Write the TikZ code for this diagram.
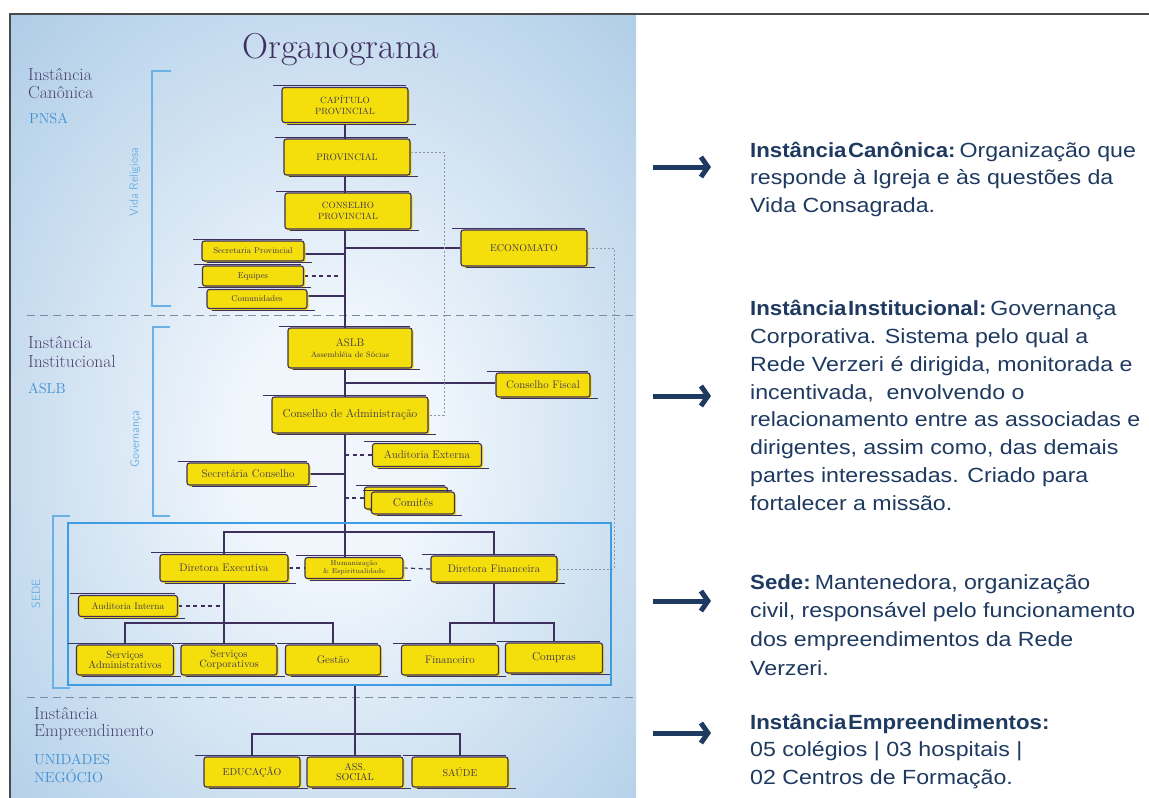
\documentclass[tikz,border=0pt]{standalone}
\usepackage{fontspec}
\usetikzlibrary{calc,arrows.meta}
\newfontfamily\notefont[FakeStretch=1.13]{Liberation Sans}

\definecolor{boxyellow}{RGB}{244,223,12}
\definecolor{ink}{RGB}{61,47,94}
\definecolor{boxtext}{RGB}{63,53,80}
\definecolor{panelin}{RGB}{240,246,252}
\definecolor{panelout}{RGB}{150,189,223}
\definecolor{framegray}{RGB}{74,74,74}
\definecolor{bracketblue}{RGB}{109,176,228}
\definecolor{labelblue}{RGB}{60,143,210}
\definecolor{labelpurple}{RGB}{77,68,112}
\definecolor{sedeblue}{RGB}{62,156,227}
\definecolor{notenavy}{RGB}{30,58,96}
\definecolor{sectdash}{RGB}{125,140,163}
\definecolor{dotgray}{RGB}{142,152,170}

\pgfdeclareradialshading{panelglow}{\pgfpoint{1bp}{-3bp}}{%
  color(0bp)=(panelin); color(8bp)=(panelin); color(48bp)=(panelout); color(90bp)=(panelout)}

\pgfdeclarelayer{panel}
\pgfdeclarelayer{links}
\pgfsetlayers{panel,links,main}

\newcommand\chartfont[2]{\fontsize{#1}{#2}\selectfont}
% bold lead-in of a note, set a little tighter
\newcommand\notehead[1]{\scalebox{0.96}[1]{\textbf{#1}}\hspace{4pt}}
\newcommand\tightsp{\hspace{1.5pt}}

\begin{document}
\begin{tikzpicture}[x=1pt,y=-1pt,
  sz/.style 2 args={minimum width=#1, minimum height=#2},
  ybox/.style={draw=ink, fill=boxyellow, line width=1.1pt, rounded corners=2.5pt,
    inner sep=0pt, align=center, text=boxtext,
    preaction={fill=boxyellow, transform canvas={shift={(1.6pt,-1.8pt)}}},
    append after command={
      ($(\tikzlastnode.north west)+(-8pt,1.3pt)$) edge[sketchline] ($(\tikzlastnode.north east)+(-3pt,1.3pt)$)
      ($(\tikzlastnode.south west)+(6pt,-0.9pt)$) edge[sketchline] ($(\tikzlastnode.south east)+(7pt,-0.9pt)$)
    }},
  sketchline/.style={draw=ink, line width=0.8pt},
  link/.style={draw=ink, line width=1.5pt},
  dashlink/.style={draw=ink, line width=1.2pt, dash pattern=on 4pt off 3.5pt},
  dotlink/.style={draw=dotgray, line width=0.8pt, dash pattern=on 2pt off 2pt},
  sectline/.style={draw=sectdash, line width=0.8pt, dash pattern=on 8pt off 5pt},
  bracket/.style={draw=bracketblue, line width=1.3pt},
  sectlabel/.style={anchor=base west, text=labelpurple, font=\chartfont{17.5}{20}, inner sep=0pt},
  unitlabel/.style={anchor=base west, text=labelblue, font=\chartfont{14.5}{17}, inner sep=0pt},
  sidelabel/.style={rotate=90, text=bracketblue, font=\sffamily\chartfont{12}{14}, inner sep=0pt},
  noteline/.style={anchor=base west, text=notenavy, font=\notefont\fontsize{20.5}{24}\selectfont, inner sep=0pt},
  notearrow/.style={draw=notenavy, line width=5pt, -{Straight Barb[length=7pt, width=20pt]}},
]
\useasboundingbox (0,0) rectangle (1149,798);

% blue panel with its soft glow and the frame lines
\begin{pgfonlayer}{panel}
  \fill[white] (0,0) rectangle (1149,798);
  \shade[shading=panelglow] (10,14) rectangle (636,798);
  \draw[framegray, line width=1.4pt] (1149,14) -- (10,14) -- (10,798);
  \draw[sectline] (27,315) -- (636,315);
  \draw[sectline] (27,697) -- (636,697);
  \draw[bracket] (171,71) -- (152,71) -- (152,306) -- (171,306);
  \draw[bracket] (170,327) -- (153,327) -- (153,516) -- (170,516);
  \draw[bracket] (70,516) -- (53,516) -- (53,688) -- (70,688);
\end{pgfonlayer}

% title and section labels
\node[text=ink, font=\chartfont{36}{42}, inner sep=0pt] (title) at (341,50) {Organograma};

\node[sectlabel] (can1) at (28,80) {Instância};
\node[sectlabel] (can2) at (28,98) {Canônica};
\node[unitlabel] (pnsa) at (29,123) {PNSA};
\node[sectlabel] (ins1) at (28,348) {Instância};
\node[sectlabel] (ins2) at (28,367) {Institucional};
\node[unitlabel] (aslbtag) at (28,393) {ASLB};
\node[sectlabel] (emp1) at (34,719) {Instância};
\node[sectlabel] (emp2) at (34,736) {Empreendimento};
\node[unitlabel] (uni1) at (34,764) {UNIDADES};
\node[unitlabel] (uni2) at (34,782) {NEGÓCIO};

\node[sidelabel] (vida) at (135,182) {Vida Religiosa};
\node[sidelabel] (gov) at (136,439) {Governança};
\node[sidelabel] (sedetag) at (36,594) {SEDE};

% SEDE frame
\node[draw=sedeblue, line width=2pt, sz={543}{162}, inner sep=0pt] (sedeframe) at (339.5,604) {};

% canonical instance
\node[ybox, sz={126}{35}, font=\chartfont{9}{10.5}] (cap) at (345,105) {CAPÍTULO\\PROVINCIAL};
\node[ybox, sz={126}{36}, font=\chartfont{9.5}{11}] (prov) at (347,157) {PROVINCIAL};
\node[ybox, sz={126}{36}, font=\chartfont{9}{10.5}] (consprov) at (348,211) {CONSELHO\\PROVINCIAL};
\node[ybox, sz={126}{36}, font=\chartfont{10}{12}] (econ) at (524,248) {ECONOMATO};
\node[ybox, sz={102}{20}, font=\chartfont{8.5}{10}] (secprov) at (253,251) {Secretaria Provincial};
\node[ybox, sz={101}{20}, font=\chartfont{8.5}{10}] (equipes) at (253,276) {Equipes};
\node[ybox, sz={100}{19}, font=\chartfont{8.5}{10}] (comun) at (257,299) {Comunidades};

% institutional instance
\node[ybox, sz={124}{40}, font=\chartfont{11}{12}] (aslb) at (350,348) {ASLB\\[-1pt]{\chartfont{8}{9}Assembléia de Sócias}};
\node[ybox, sz={94}{24}, font=\chartfont{11}{13}] (fiscal) at (543,385) {Conselho Fiscal};
\node[ybox, sz={156}{36}, font=\chartfont{11.5}{13}] (consadm) at (350,415) {Conselho de Administração};
\node[ybox, sz={109}{23}, font=\chartfont{11}{13}] (audext) at (427,455) {Auditoria Externa};
\node[ybox, sz={122}{22}, font=\chartfont{11}{13}] (seccons) at (248,474) {Secretária Conselho};
\node[ybox, sz={83}{22}] (comback) at (406,498) {};
\node[ybox, sz={83}{22}, font=\chartfont{11.5}{13}] (comites) at (413,503) {Comitês};

% SEDE
\node[ybox, sz={128}{27}, font=\chartfont{11}{13}] (direx) at (224,568) {Diretora Executiva};
\node[ybox, sz={98}{21}, font=\chartfont{7}{7.6}] (human) at (354,568) {Humanização\\\& Espiritualidade};
\node[ybox, sz={126}{26}, font=\chartfont{11}{13}] (dirfin) at (494,569) {Diretora Financeira};
\node[ybox, sz={99}{21}, font=\chartfont{9.5}{11}] (audint) at (128,606) {Auditoria Interna};
\node[ybox, sz={97}{30}, font=\chartfont{10.5}{10.5}] (servadm) at (125,660) {Serviços\\Administrativos};
\node[ybox, sz={96}{30}, font=\chartfont{10.5}{10.5}] (servcorp) at (229,660) {Serviços\\Corporativos};
\node[ybox, sz={95}{30}, font=\chartfont{11}{13}] (gestao) at (333,660) {Gestão};
\node[ybox, sz={97}{30}, font=\chartfont{11}{13}] (finan) at (450,660) {Financeiro};
\node[ybox, sz={97}{30}, font=\chartfont{11.5}{13}] (compras) at (554,658) {Compras};

% business units
\node[ybox, sz={96}{30}, font=\chartfont{10}{12}] (edu) at (252,772) {EDUCAÇÃO};
\node[ybox, sz={96}{30}, font=\chartfont{10}{10.5}] (assoc) at (355,772) {ASS.\\SOCIAL};
\node[ybox, sz={96}{30}, font=\chartfont{10}{12}] (saude) at (460,772) {SAÚDE};

% junction points of the tree
\coordinate (sedebar) at (345,532);
\coordinate (exbar) at (224,623);
\coordinate (finbar) at (494,623);
\coordinate (unitbar) at (355,734);
\coordinate (provlink) at (444,0);
\coordinate (econlink) at (614,0);

\begin{pgfonlayer}{links}
  % main spine
  \draw[link] (cap.south) -- (cap.south |- human.north);
  \draw[link] (econ.west) -- (econ.west -| cap.south);
  \draw[link] ([yshift=-3pt]secprov.east) -- ([yshift=-3pt]secprov.east -| cap.south);
  \draw[dashlink] (equipes.east) -- ([xshift=-4pt]equipes.east -| cap.south);
  \draw[link] ([yshift=3pt]comun.east) -- ([yshift=3pt]comun.east -| cap.south);
  \draw[link] ([yshift=2pt]fiscal.west) -- ([yshift=2pt]fiscal.west -| cap.south);
  \draw[dashlink] (audext.west) -- (audext.west -| cap.south);
  \draw[link] (seccons.east) -- (seccons.east -| cap.south);
  \draw[dashlink] (comback.west) -- (comback.west -| cap.south);
  % dotted side links
  \draw[dotlink] ([yshift=5pt]prov.east) -| (provlink |- consadm.east) -- (consadm.east);
  \draw[dotlink] (econ.east) -| (econlink |- dirfin.east) -- (dirfin.east);
  % SEDE branches
  \draw[link] (direx.north) |- (sedebar) -| (dirfin.north);
  \draw[dashlink] (direx.east) -- (human.west);
  \draw[dashlink] (human.east) -- (dirfin.west);
  \draw[dashlink] (audint.east) -- (audint.east -| direx.south);
  \draw[link] (direx.south) -- (exbar) -- (exbar |- servcorp.north);
  \draw[link] (servadm.north) |- (exbar) -| (gestao.north);
  \draw[link] (dirfin.south) -- (finbar);
  \draw[link] (finan.north) |- (finbar) -| (compras.north);
  % business units
  \draw[link] (sedeframe.south -| assoc.north) -- (assoc.north);
  \draw[link] (edu.north) |- (unitbar) -| (saude.north);
\end{pgfonlayer}

% explanatory notes
\coordinate (a1s) at (653,167); \coordinate (a1e) at (711,167);
\coordinate (a2s) at (653,396); \coordinate (a2e) at (711,396);
\coordinate (a3s) at (653,601); \coordinate (a3e) at (711,601);
\coordinate (a4s) at (653,733); \coordinate (a4e) at (711,733);
\draw[notearrow] (a1s) -- (a1e);
\draw[notearrow] (a2s) -- (a2e);
\draw[notearrow] (a3s) -- (a3e);
\draw[notearrow] (a4s) -- (a4e);

\node[noteline] (n1a) at (750,157) {\notehead{Instância\tightsp Canônica:}Organização que};
\node[noteline] (n1b) at (750,184.5) {responde à Igreja e às questões da};
\node[noteline] (n1c) at (750,212) {Vida Consagrada.};

\node[noteline] (n2a) at (750,315) {\notehead{Instância\tightsp Institucional:}Governança};
\node[noteline] (n2b) at (750,343) {Corporativa. Sistema pelo qual a};
\node[noteline] (n2c) at (750,371) {Rede Verzeri é dirigida, monitorada e};
\node[noteline] (n2d) at (750,399) {incentivada,\ \ envolvendo o};
\node[noteline] (n2e) at (750,426.5) {relacionamento entre as associadas e};
\node[noteline] (n2f) at (750,454.5) {dirigentes, assim como, das demais};
\node[noteline] (n2g) at (750,482) {partes interessadas. Criado para};
\node[noteline] (n2h) at (750,510) {fortalecer a missão.};

\node[noteline] (n3a) at (750,589) {\notehead{Sede:}Mantenedora, organização};
\node[noteline] (n3b) at (750,617.5) {civil, responsável pelo funcionamento};
\node[noteline] (n3c) at (750,646) {dos empreendimentos da Rede};
\node[noteline] (n3d) at (750,675) {Verzeri.};

\node[noteline] (n4a) at (750,729) {\scalebox{0.96}[1]{\textbf{Instância\tightsp Empreendimentos:}}};
\node[noteline] (n4b) at (750,756.5) {05 colégios | 03 hospitais |};
\node[noteline] (n4c) at (750,784) {02 Centros de Formação.};
\end{tikzpicture}
\end{document}
